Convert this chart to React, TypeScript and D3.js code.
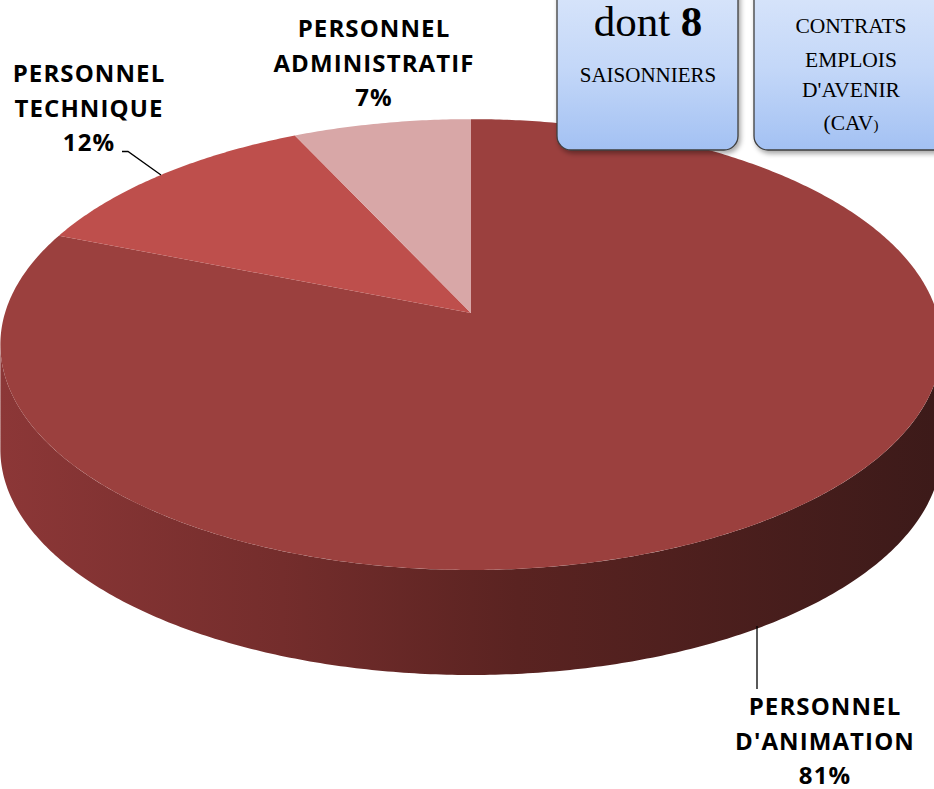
import React, { useEffect, useRef } from 'react';
import * as d3 from 'd3';

const categories = ['PERSONNEL D\'ANIMATION', 'PERSONNEL TECHNIQUE', 'PERSONNEL ADMINISTRATIF'];
const shares = [81, 12, 7];
const topColors = ['#9b403e', '#be4f4c', '#d8a7a7'];
const boxOneLines = ['SAISONNIERS'];
const boxTwoLines = ['CONTRATS', 'EMPLOIS', 'D\'AVENIR'];

const WIDTH = 934;
const HEIGHT = 789;

export default function App() {
  const svgRef = useRef<SVGSVGElement>(null);

  useEffect(() => {
    if (!svgRef.current) return;
    const svg = d3.select(svgRef.current);
    svg.selectAll('*').remove();
    svg.attr('width', WIDTH).attr('height', HEIGHT);

    // perspective disc: centre of the pie, half axes and tilt factor
    const cx = 471;
    const cy = 313;
    const A = 466;
    const B = 221;
    const k = 0.14;
    const depth = 105;

    const project = (a: number, r = 1): [number, number] => {
      const u = r * Math.sin(a);
      const v = -r * Math.cos(a);
      const w = 1 - k * v;
      return [cx + (A * u) / w, cy + (B * v) / w];
    };

    const arcPoints = (a0: number, a1: number) => {
      const n = Math.max(2, Math.ceil(Math.abs(a1 - a0) / 0.01));
      return d3.range(n + 1).map((i) => project(a0 + ((a1 - a0) * i) / n));
    };

    const defs = svg.append('defs');

    const sideGrad = defs
      .append('linearGradient')
      .attr('id', 'sideGrad')
      .attr('gradientUnits', 'userSpaceOnUse')
      .attr('x1', 0)
      .attr('x2', 940)
      .attr('y1', 0)
      .attr('y2', 0);
    sideGrad.append('stop').attr('offset', '0%').attr('stop-color', '#8c3737');
    sideGrad.append('stop').attr('offset', '30%').attr('stop-color', '#742d2c');
    sideGrad.append('stop').attr('offset', '55%').attr('stop-color', '#5a2321');
    sideGrad.append('stop').attr('offset', '100%').attr('stop-color', '#3c1a19');

    const boxGrad = defs
      .append('linearGradient')
      .attr('id', 'boxGrad')
      .attr('x1', 0)
      .attr('x2', 0)
      .attr('y1', 0)
      .attr('y2', 1);
    boxGrad.append('stop').attr('offset', '0%').attr('stop-color', '#dde8fb');
    boxGrad.append('stop').attr('offset', '55%').attr('stop-color', '#c3d7f8');
    boxGrad.append('stop').attr('offset', '100%').attr('stop-color', '#a3c1f3');

    const shadow = defs
      .append('filter')
      .attr('id', 'shadow')
      .attr('x', '-10%')
      .attr('y', '-10%')
      .attr('width', '130%')
      .attr('height', '130%');
    shadow
      .append('feDropShadow')
      .attr('dx', 2)
      .attr('dy', 3)
      .attr('stdDeviation', 2.5)
      .attr('flood-color', '#000')
      .attr('flood-opacity', 0.35);

    const line = d3.line();

    // front wall of the cylinder
    const aRight = Math.acos(-k);
    const aLeft = 2 * Math.PI - aRight;
    const rimTop = arcPoints(aRight, aLeft);
    const rimBottom = rimTop.map(([x, y]) => [x, y + depth] as [number, number]).reverse();
    svg
      .append('path')
      .attr('d', line([...rimTop, ...rimBottom]) + 'Z')
      .attr('fill', 'url(#sideGrad)');

    // top face slices
    const pie = d3.pie<number>().sort(null).value((d) => d);
    const arcs = pie(shares);
    svg
      .append('g')
      .selectAll('path')
      .data(arcs)
      .join('path')
      .attr('d', (d) => line([[cx, cy], ...arcPoints(d.startAngle, d.endAngle)]) + 'Z')
      .attr('fill', (_, i) => topColors[i]);

    // labels
    const labelFont = "'Open Sans', 'DejaVu Sans', sans-serif";
    const labelSpots = [
      { x: 825, y: 715 },
      { x: 89, y: 82 },
      { x: 374, y: 37 },
    ];
    const total = d3.sum(shares);
    arcs.forEach((d, i) => {
      const words = categories[i].split(' ');
      const t = svg
        .append('text')
        .attr('x', labelSpots[i].x)
        .attr('y', labelSpots[i].y)
        .attr('text-anchor', 'middle')
        .attr('font-family', labelFont)
        .attr('font-weight', 700)
        .attr('font-size', '24px')
        .attr('letter-spacing', '1.1px')
        .attr('fill', '#000');
      [...words, `${Math.round((shares[i] / total) * 100)}%`].forEach((w, j) => {
        t.append('tspan')
          .attr('x', labelSpots[i].x)
          .attr('dy', j === 0 ? 0 : 34.5)
          .text(w);
      });
    });

    // leader lines
    const techEdge = project((arcs[1].startAngle + arcs[1].endAngle) / 2);
    svg
      .append('path')
      .attr('d', line([[122, 151.5], [128, 151.5], techEdge]))
      .attr('fill', 'none')
      .attr('stroke', '#000')
      .attr('stroke-width', 1.3);
    svg
      .append('line')
      .attr('x1', 757)
      .attr('x2', 757)
      .attr('y1', 626)
      .attr('y2', 689)
      .attr('stroke', '#000')
      .attr('stroke-width', 1.3);

    // callout boxes
    const serif = "'Liberation Serif', 'DejaVu Serif', serif";
    const boxes = [
      { x: 557, w: 181, cxText: 648 },
      { x: 754, w: 195, cxText: 851 },
    ];
    boxes.forEach((b) => {
      svg
        .append('rect')
        .attr('x', b.x)
        .attr('y', -30)
        .attr('width', b.w)
        .attr('height', 180)
        .attr('rx', 14)
        .attr('fill', 'url(#boxGrad)')
        .attr('stroke', '#3f3f3f')
        .attr('stroke-width', 1.3)
        .attr('filter', 'url(#shadow)');
    });

    const dont = svg
      .append('text')
      .attr('x', boxes[0].cxText)
      .attr('y', 36)
      .attr('text-anchor', 'middle')
      .attr('font-family', serif)
      .attr('font-size', '43px')
      .attr('fill', '#000');
    dont.append('tspan').text('dont ');
    dont.append('tspan').attr('font-weight', 700).text('8');

    boxOneLines.forEach((s, j) => {
      svg
        .append('text')
        .attr('x', boxes[0].cxText)
        .attr('y', 82 + j * 33)
        .attr('text-anchor', 'middle')
        .attr('font-family', serif)
        .attr('font-size', '21px')
        .attr('fill', '#000')
        .text(s);
    });

    const boxTwoBase = [33, 66.5, 97];
    boxTwoLines.forEach((s, j) => {
      svg
        .append('text')
        .attr('x', boxes[1].cxText)
        .attr('y', boxTwoBase[j])
        .attr('text-anchor', 'middle')
        .attr('font-family', serif)
        .attr('font-size', '21.5px')
        .attr('fill', '#000')
        .text(s);
    });
    const cav = svg
      .append('text')
      .attr('x', boxes[1].cxText)
      .attr('y', 130)
      .attr('text-anchor', 'middle')
      .attr('font-family', serif)
      .attr('font-size', '21.5px')
      .attr('fill', '#000');
    cav.append('tspan').text('(CAV');
    cav.append('tspan').attr('font-size', '15px').text(')');
  }, []);

  return (
    <svg
      ref={svgRef}
      style={{ position: 'absolute', left: 0, top: 0, display: 'block', background: '#fff' }}
    />
  );
}
